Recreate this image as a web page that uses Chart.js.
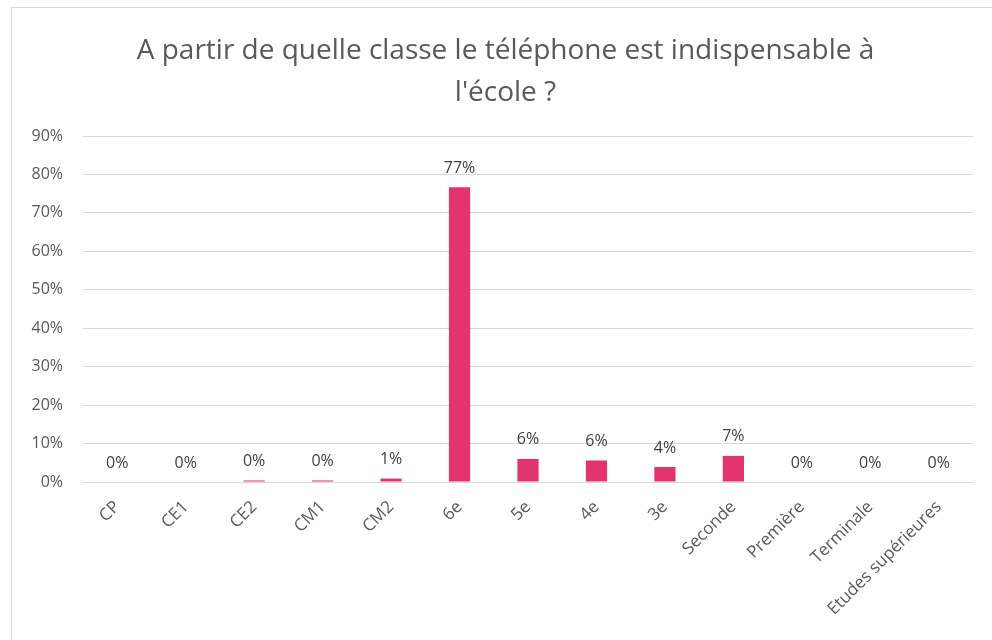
<!DOCTYPE html>
<html>
<head>
<meta charset="utf-8">
<script src="https://cdn.jsdelivr.net/npm/chart.js@4"></script>
<style>
  html, body { margin: 0; padding: 0; background: #ffffff; overflow: hidden; }
  .frame {
    position: absolute; left: 11px; top: 7px; width: 990px; height: 650px;
    border: 1px solid #d9d9d9; background: #ffffff;
  }
  .wrap { position: absolute; left: 2px; top: 2px; width: 978px; height: 631px; }
</style>
</head>
<body>
<div class="frame"><div class="wrap"><canvas id="chart"></canvas></div></div>
<script>
  const titleLines = ["A partir de quelle classe le téléphone est indispensable à", "l'école ?"];
  const classes = ["CP", "CE1", "CE2", "CM1", "CM2", "6e", "5e", "4e", "3e", "Seconde", "Première", "Terminale", "Etudes supérieures"];
  const shares = [0, 0, 0.4, 0.4, 0.9, 76.7, 6.0, 5.6, 3.9, 6.8, 0, 0, 0];
  const yTicks = [0, 10, 20, 30, 40, 50, 60, 70, 80, 90];

  const textColor = "#595959";
  const barColor = "#e2346f";

  // draws the rounded % above each bar
  const valueLabels = {
    id: "valueLabels",
    afterDatasetsDraw(chart) {
      const ctx = chart.ctx;
      const meta = chart.getDatasetMeta(0);
      ctx.save();
      ctx.font = "16px 'Open Sans', sans-serif";
      ctx.fillStyle = "#404040";
      ctx.textAlign = "center";
      ctx.textBaseline = "bottom";
      meta.data.forEach((bar, i) => {
        ctx.fillText(Math.round(shares[i]) + "%", bar.x, bar.y - 11);
      });
      ctx.restore();
    }
  };

  // the title in the original sits a bit right of the canvas middle
  const titleShift = {
    id: "titleShift",
    afterLayout(chart) {
      if (chart.titleBlock) {
        chart.titleBlock.left += 24;
      }
    }
  };

  new Chart(document.getElementById("chart"), {
    type: "bar",
    data: {
      labels: classes,
      datasets: [{
        data: shares,
        backgroundColor: barColor,
        barPercentage: 0.62,
        categoryPercentage: 0.5
      }]
    },
    options: {
      responsive: true,
      maintainAspectRatio: false,
      animation: false,
      layout: { padding: { right: 19, left: 0, bottom: 0, top: 0 } },
      plugins: {
        legend: { display: false },
        tooltip: { enabled: false },
        title: {
          display: true,
          text: titleLines,
          color: textColor,
          font: { family: "'Open Sans', sans-serif", size: 28, weight: "normal", lineHeight: 1.5 },
          padding: { top: 20, bottom: 22 }
        }
      },
      scales: {
        y: {
          min: 0,
          max: 90,
          afterBuildTicks(scale) {
            scale.ticks = yTicks.map((v) => ({ value: v }));
          },
          afterFit(scale) { scale.width = 69; },
          ticks: {
            color: textColor,
            padding: 20,
            font: { family: "'Open Sans', sans-serif", size: 16 },
            callback: (v) => v + "%"
          },
          border: { display: false },
          grid: { color: "#d9d9d9", lineWidth: 1, drawTicks: false }
        },
        x: {
          afterFit(scale) { scale.height = 159; },
          ticks: {
            color: textColor,
            minRotation: 45,
            maxRotation: 45,
            padding: 15,
            font: { family: "'Open Sans', sans-serif", size: 17 }
          },
          border: { display: false },
          grid: { display: false, drawTicks: false }
        }
      }
    },
    plugins: [valueLabels, titleShift]
  });
</script>
</body>
</html>
